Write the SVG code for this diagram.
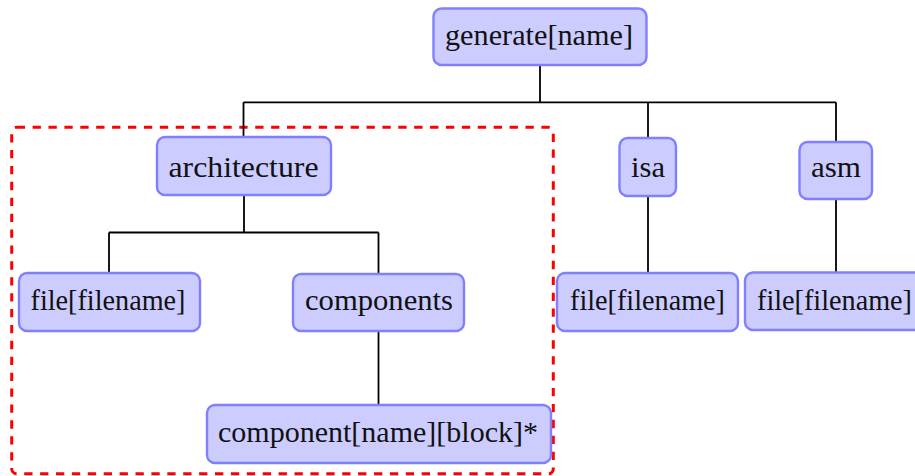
<svg xmlns="http://www.w3.org/2000/svg" width="915" height="476" viewBox="0 0 915 476">
  <style>
    .node rect { fill: #ccccff; stroke: #8080ff; stroke-width: 2.4; }
    .node text { font-family: "Liberation Serif", "Times New Roman", serif; font-size: 28.5px; fill: #111; text-anchor: middle; }
    .edge { fill: none; stroke: #000; stroke-width: 1.8; }
    .group { fill: none; stroke: #ff0000; stroke-width: 3; stroke-dasharray: 8.3 7.6; }
  </style>
  <rect width="915" height="476" fill="#fff"/>

  <!-- dashed region around the architecture subtree -->
  <rect class="group" x="11.7" y="127.3" width="541.6" height="346.5" rx="5" ry="5"/>

  <!-- tree connectors -->
  <g id="connectors">
    <path class="edge" d="M540 65 V102.3 M243.5 102.3 H836 M243.5 102.3 V137 M648 102.3 V138 M836 102.3 V142"/>
    <path class="edge" d="M244 195 V232.5 M109 232.5 H378.5 M109 232.5 V273 M378.5 232.5 V274"/>
    <path class="edge" d="M378.5 331 V405"/>
    <path class="edge" d="M648 196 V273"/>
    <path class="edge" d="M836 199 V272"/>
  </g>

  <g id="generate" class="node">
    <rect x="433.5" y="8.5" width="213" height="56.5" rx="8"/>
    <text x="539" y="44.5" textLength="188" lengthAdjust="spacingAndGlyphs">generate[name]</text>
  </g>

  <g id="architecture" class="node">
    <rect x="157" y="137" width="174" height="58" rx="8"/>
    <text x="243.5" y="177" textLength="150" lengthAdjust="spacingAndGlyphs">architecture</text>
  </g>

  <g id="isa" class="node">
    <rect x="619.5" y="138" width="56.5" height="58" rx="8"/>
    <text x="648" y="177" textLength="34" lengthAdjust="spacingAndGlyphs">isa</text>
  </g>

  <g id="asm" class="node">
    <rect x="799.5" y="142" width="72.5" height="57" rx="8"/>
    <text x="836" y="177" textLength="50" lengthAdjust="spacingAndGlyphs">asm</text>
  </g>

  <g id="arch-file" class="node">
    <rect x="19" y="273" width="181" height="58" rx="8"/>
    <text x="108" y="310" textLength="155" lengthAdjust="spacingAndGlyphs">file[filename]</text>
  </g>

  <g id="components" class="node">
    <rect x="293" y="274" width="171" height="57" rx="8"/>
    <text x="379" y="310" textLength="148" lengthAdjust="spacingAndGlyphs">components</text>
  </g>

  <g id="component" class="node">
    <rect x="207" y="405" width="344" height="58" rx="8"/>
    <text x="378" y="442" textLength="320" lengthAdjust="spacingAndGlyphs">component[name][block]*</text>
  </g>

  <g id="isa-file" class="node">
    <rect x="557" y="273" width="181" height="58" rx="8"/>
    <text x="647.5" y="310" textLength="155" lengthAdjust="spacingAndGlyphs">file[filename]</text>
  </g>

  <g id="asm-file" class="node">
    <rect x="745" y="272.5" width="181" height="57.5" rx="8"/>
    <text x="834.5" y="310" textLength="155" lengthAdjust="spacingAndGlyphs">file[filename]</text>
  </g>
</svg>
